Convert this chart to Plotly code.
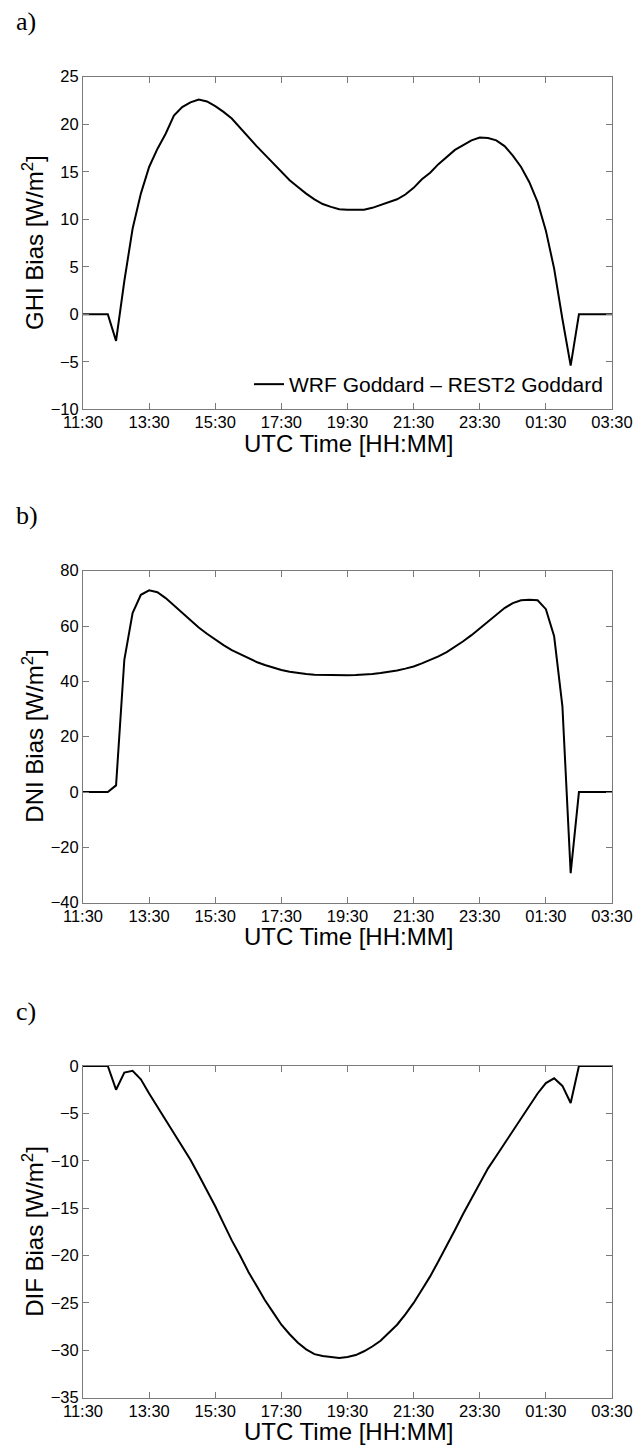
import pandas as pd
import plotly.graph_objects as go

# 15-minute steps from 11:30 UTC to 03:30 UTC (next day)
times = pd.date_range("2000-01-01 11:30", "2000-01-02 03:30", freq="15min")

ghi_bias = [0, 0, 0, 0, -2.8, 3.5, 9.0, 12.7, 15.5, 17.4, 19.0, 20.9, 21.8, 22.3, 22.6, 22.4,
            21.9, 21.3, 20.6, 19.6, 18.7, 17.7, 16.8, 15.9, 15.0, 14.1, 13.4, 12.7, 12.1, 11.6,
            11.3, 11.05, 11.0, 11.0, 11.0, 11.2, 11.5, 11.8, 12.1, 12.6, 13.3, 14.2, 14.9, 15.8,
            16.6, 17.3, 17.8, 18.3, 18.6, 18.55, 18.3, 17.7, 16.7, 15.5, 13.9, 11.8, 8.8, 4.8,
            -0.5, -5.4, 0, 0, 0, 0, 0]

dni_bias = [0, 0, 0, 0, 2.4, 47.8, 64.7, 71.3, 72.9, 72.2, 70.1, 67.5, 64.7, 62.0, 59.5, 57.2,
            55.1, 53.1, 51.3, 49.8, 48.3, 47.0, 45.9, 44.9, 44.1, 43.5, 43.0, 42.7, 42.4, 42.3,
            42.2, 42.2, 42.2, 42.3, 42.4, 42.7, 43.0, 43.4, 43.9, 44.6, 45.4, 46.5, 47.7, 49.0,
            50.6, 52.4, 54.5, 56.7, 59.2, 61.7, 64.2, 66.5, 68.3, 69.3, 69.5, 69.3, 66.1, 56.3,
            31.0, -29.3, 0, 0, 0, 0, 0]

dif_bias = [0, 0, 0, 0, -2.5, -0.7, -0.5, -1.4, -2.9, -4.3, -5.7, -7.0, -8.4, -9.9, -11.5, -13.1,
            -14.8, -16.6, -18.4, -20.0, -21.7, -23.2, -24.7, -26.0, -27.3, -28.3, -29.2, -29.9,
            -30.4, -30.6, -30.7, -30.8, -30.7, -30.5, -30.1, -29.6, -29.0, -28.2, -27.3, -26.2,
            -25.0, -23.6, -22.2, -20.6, -19.0, -17.3, -15.6, -14.0, -12.3, -10.8, -9.5, -8.2,
            -6.8, -5.5, -4.2, -2.9, -1.8, -1.3, -2.1, -3.9, 0, 0, 0, 0, 0]

panel_labels = ["a)", "b)", "c)"]
y_titles = ["GHI Bias [W/m<sup>2</sup>]", "DNI Bias [W/m<sup>2</sup>]", "DIF Bias [W/m<sup>2</sup>]"]
x_title = "UTC Time [HH:MM]"
y_ranges = [[-10, 25], [-40, 80], [-35, 0]]
y_dticks = [5, 20, 5]
series_name = "WRF Goddard \u2013 REST2 Goddard"

W, H = 636, 1447
left_px, right_px = 83, 612
panels_px = [(76.7, 409.3), (570.7, 902.7), (1066, 1397.7)]

def py(px):
    return 1 - px / H

fig = go.Figure()
series = [ghi_bias, dni_bias, dif_bias]
font_sans = "Liberation Sans, Arial, sans-serif"
axis_col = "#7a7a7a"

for i, vals in enumerate(series):
    sfx = "" if i == 0 else str(i + 1)
    fig.add_trace(go.Scatter(
        x=times, y=vals, mode="lines",
        line=dict(color="black", width=2),
        name=series_name, showlegend=(i == 0),
        xaxis="x" + sfx, yaxis="y" + sfx,
    ))
    top, bot = panels_px[i]
    common = dict(showline=True, linecolor=axis_col, linewidth=1, mirror="ticks",
                  ticks="inside", ticklen=6, tickcolor=axis_col, showgrid=False,
                  zeroline=False, automargin=False,
                  tickfont=dict(family=font_sans, size=16.5, color="black"))
    fig.update_layout(**{
        "xaxis" + sfx: dict(domain=[left_px / W, right_px / W], anchor="y" + sfx,
                            range=[times[0], times[-1]], tick0=times[0],
                            dtick=2 * 3600 * 1000, tickformat="%H:%M",
                            ticklabelstandoff=-2, **common),
        "yaxis" + sfx: dict(domain=[py(bot), py(top)], anchor="x" + sfx,
                            range=y_ranges[i], dtick=y_dticks[i], **common),
    })
    fig.add_annotation(text=panel_labels[i], xref="paper", yref="paper",
                       x=14 / W, y=py(top - 55), xanchor="left", yanchor="middle",
                       showarrow=False,
                       font=dict(family="Liberation Serif, Times New Roman, serif", size=26, color="black"))
    fig.add_annotation(text=y_titles[i], xref="paper", yref="paper",
                       x=33 / W, y=py((top + bot) / 2), xanchor="center", yanchor="middle",
                       textangle=-90, showarrow=False,
                       font=dict(family=font_sans, size=24, color="black"))
    fig.add_annotation(text=x_title, xref="paper", yref="paper",
                       x=348 / W, y=py(bot + 34), xanchor="center", yanchor="middle",
                       showarrow=False,
                       font=dict(family=font_sans, size=24, color="black"))

fig.update_layout(
    template="none",
    width=W, height=H, margin=dict(l=0, r=0, t=0, b=0, pad=0),
    paper_bgcolor="white", plot_bgcolor="white",
    showlegend=True,
    legend=dict(x=608 / W, y=py(405), xanchor="right", yanchor="bottom",
                bgcolor="rgba(0,0,0,0)", borderwidth=0,
                font=dict(family=font_sans, size=21, color="black"),
                itemwidth=30, tracegroupgap=0),
)

fig.write_html("out.html")
